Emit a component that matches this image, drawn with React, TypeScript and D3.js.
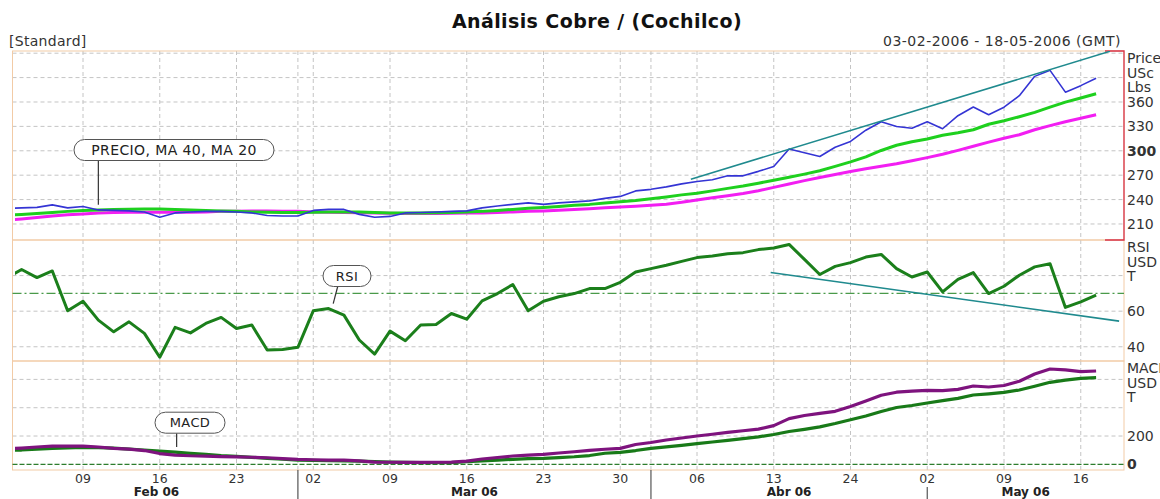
import React from 'react';
import * as d3 from 'd3';

// trading days, index 0 is the (clipped) day before 03-02-2006
const price = [229.2, 229.8, 230.4, 233.5, 229.8, 231.4, 227.3, 226.7, 226.1, 224.8, 218.3, 223.6, 224.8, 225.5, 225.5, 224.8, 223.6, 220.5, 219.9, 219.9, 226.7, 227.9, 227.9, 221.8, 218.3, 219.3, 223.6, 224.2, 224.8, 225.5, 226.1, 229.8, 232.2, 234.1, 235.9, 234.1, 235.9, 237.2, 238.4, 241.5, 243.9, 250.7, 252.6, 255.6, 259.3, 262.2, 264.3, 269.2, 269.2, 274.7, 280.7, 302.1, 297.5, 293, 304.3, 311.5, 325.3, 335.7, 329.9, 327.7, 335.7, 327.1, 343.1, 353.8, 344.4, 353.6, 367.8, 391.5, 398.9, 372.1, 380.1, 389.1];
const ma20 = [220.5, 221.8, 223.0, 224.2, 225.5, 226.7, 227.3, 227.9, 228.2, 228.5, 228.5, 227.9, 227.3, 226.7, 226.1, 225.5, 224.8, 224.5, 224.2, 224.2, 224.5, 224.6, 224.8, 224.8, 224.2, 223.6, 223.6, 223.6, 223.9, 224.2, 224.8, 225.5, 226.7, 227.9, 229.2, 230.4, 231.6, 232.9, 234.1, 235.9, 237.4, 238.9, 240.9, 243.3, 245.8, 247.9, 250.7, 253.8, 256.6, 260.2, 263.7, 267.4, 271.3, 275.4, 280.9, 286.4, 292.6, 300.4, 306.8, 311.1, 314.4, 319.1, 322.2, 325.9, 332.6, 337.0, 341.9, 347.2, 353.6, 359.8, 364.9, 370.2];
const ma40 = [214.4, 216.2, 218.1, 219.9, 221.2, 222.4, 223.6, 224.2, 224.5, 224.5, 224.5, 224.5, 224.5, 224.8, 225.5, 225.8, 226.1, 226.1, 225.8, 225.5, 224.8, 224.5, 224.2, 223.9, 223.6, 223.2, 223.0, 223.0, 223.0, 223.2, 223.4, 223.6, 224.2, 224.8, 225.5, 226.1, 226.9, 227.9, 228.8, 230.1, 231.0, 231.9, 232.9, 234.3, 236.6, 239.6, 242.2, 244.8, 247.4, 250.8, 255.0, 259.2, 263.3, 267.1, 270.8, 274.6, 277.8, 281.0, 284.1, 287.7, 291.6, 295.7, 300.5, 305.5, 310.7, 315.4, 319.7, 325.9, 331.0, 335.7, 340.0, 344.4];
const rsi = [78.5, 83.4, 78.9, 82.6, 60.2, 65.6, 55.0, 48.4, 54.0, 47.5, 34.1, 50.9, 47.8, 53.1, 56.5, 50.3, 52.2, 38.2, 38.5, 39.7, 60.2, 61.5, 57.8, 43.8, 35.9, 48.8, 43.4, 52.2, 52.5, 58.7, 55.5, 65.8, 69.9, 75.0, 60.2, 65.6, 68.1, 69.9, 72.7, 72.7, 76.2, 82.0, 83.9, 85.8, 88.0, 90.1, 91.0, 92.3, 92.9, 94.6, 95.5, 97.5, 89.1, 80.6, 85.2, 87.3, 90.4, 91.9, 83.9, 79.2, 82.0, 70.8, 77.9, 81.7, 69.9, 74.0, 80.2, 84.9, 86.7, 62.1, 65.2, 69.0];
const macd = [108.1, 115.2, 122.3, 129.3, 129.3, 129.3, 122.3, 113.1, 108.1, 97.5, 76.3, 65.7, 60.8, 58.7, 55.1, 53.0, 50.2, 46.6, 41.0, 35.3, 32.5, 30.4, 30.4, 24.7, 16.3, 14.8, 14.1, 14.1, 14.8, 16.3, 23.3, 37.5, 48.1, 58.7, 65.7, 70.7, 79.9, 89.0, 98.9, 106.7, 113.1, 139.9, 154.1, 171.7, 185.9, 200.0, 212.7, 226.1, 237.5, 248.8, 273.5, 323.0, 344.9, 359.7, 374.6, 408.5, 447.3, 488.3, 509.5, 517.3, 523.0, 520.1, 530.0, 553.3, 546.3, 556.9, 587.3, 638.2, 673.5, 667.8, 654.4, 659.4];
const signal = [97.5, 101.1, 108.1, 113.1, 116.6, 120.1, 118.7, 115.2, 108.1, 101.1, 94.0, 86.9, 77.7, 70.7, 62.2, 56.5, 49.5, 42.4, 36.0, 30.4, 28.3, 25.4, 24.7, 23.3, 19.8, 16.3, 14.1, 12.7, 11.3, 12.7, 18.4, 24.7, 30.4, 35.3, 40.3, 42.4, 48.1, 53.7, 62.2, 78.4, 84.8, 97.5, 113.1, 123.7, 134.3, 146.3, 157.6, 169.6, 181.6, 194.3, 210.6, 231.8, 247.3, 265.0, 288.3, 314.5, 341.3, 373.1, 401.4, 415.5, 433.2, 450.2, 466.4, 489.7, 498.2, 508.8, 525.1, 551.9, 579.5, 594.3, 607.8, 612.0];

const dayTicks = [5, 10, 15, 20, 25, 30, 35, 40, 45, 50, 55, 60, 65, 70];
const dayLabels = ['09', '16', '23', '02', '09', '16', '23', '30', '06', '13', '24', '02', '09', '16'];
const monthStarts = [19, 42, 60];
const monthLabels = ['Feb 06', 'Mar 06', 'Abr 06', 'May 06'];

const priceTicks = [210, 240, 270, 300, 330, 360];
const priceGrid = [210, 240, 270, 300, 330, 360, 390, 420];
const rsiTicks = [60, 40];
const rsiGrid = [40, 60, 80];
const macdTicks = [200, 0];
const macdGrid = [200, 400, 600];

// drawn trend lines: [index, value]
const priceTrend: [number, number][] = [[44.6, 265.1], [71.9, 422.3]];
const rsiTrend: [number, number][] = [[49.8, 81.7], [72.5, 54.4]];

const W = 1160;
const H = 499;
const L = 12.5;
const R = 1124;
const CLIP_L = 15;
const FONT = '"DejaVu Sans", Verdana, sans-serif';
const GRID = '#c4c4c4';
const BORDER = '#f2cba6';
const TXT = '#333';

const x = d3.scaleLinear().domain([0, 71]).range([6.25, 1096.1]);
const yPrice = d3.scaleLinear().domain([190.3, 422.7]).range([240, 51]);
const yRsi = d3.scaleLinear().domain([32, 100]).range([361, 240]);
const yMacd = d3.scaleLinear().domain([-40, 730]).range([470, 361]);

const panels = [
  { id: 'price', top: 51, bottom: 240, y: yPrice, grid: priceGrid, ticks: priceTicks, bold: 300, head: ['Price', 'USc', 'Lbs'] },
  { id: 'rsi', top: 240, bottom: 361, y: yRsi, grid: rsiGrid, ticks: rsiTicks, bold: -1, head: ['RSI', 'USD', 'T'] },
  { id: 'macd', top: 361, bottom: 470, y: yMacd, grid: macdGrid, ticks: macdTicks, bold: 0, head: ['MACD', 'USD', 'T'] },
];

const mkLine = (y: d3.ScaleLinear<number, number>) =>
  d3.line<number>().x((_, i) => x(i)).y((d) => y(d));

const Callout = ({ text, ax, ay, cx, cy, w, px, fs }: any) => {
  const h = 21;
  return (
    <g>
      <line x1={ax + px} y1={cy + h / 2} x2={ax} y2={ay} stroke="#333" strokeWidth={1.2} />
      <rect x={cx - w / 2} y={cy - h / 2} width={w} height={h} rx={10.5} ry={10.5} fill="#fff" stroke="#555" strokeWidth={1} />
      <text x={cx} y={cy} textAnchor="middle" dominantBaseline="central" fontSize={fs} letterSpacing={0.4} fill="#222" fontFamily={FONT}>
        {text}
      </text>
    </g>
  );
};

const App = () => {
  const vLines = [...dayTicks, ...monthStarts.filter((m) => !dayTicks.includes(m))];
  const monthEdges = [CLIP_L, ...monthStarts.map((m) => x(m)), R];

  return (
    <div style={{ position: 'absolute', left: 0, top: 0, background: '#fff' }}>
      <svg width={W} height={H} style={{ display: 'block', fontFamily: FONT }}>
        <rect width={W} height={H} fill="#fff" />
        <defs>
          {panels.map((p) => (
            <clipPath id={`clip-${p.id}`} key={p.id}>
              <rect x={CLIP_L} y={p.top} width={R - CLIP_L} height={p.bottom - p.top} />
            </clipPath>
          ))}
        </defs>

        <text x={597} y={28} textAnchor="middle" fontSize={19} fontWeight="bold" letterSpacing={0.4} fill="#111">
          Análisis Cobre / (Cochilco)
        </text>
        <text x={9} y={46} fontSize={14} fill={TXT} letterSpacing={0.3}>[Standard]</text>
        <text x={1121} y={46} textAnchor="end" fontSize={14} fill={TXT} letterSpacing={0.5}>
          03-02-2006 - 18-05-2006 (GMT)
        </text>

        {panels.map((p) => (
          <g key={p.id}>
            {p.grid.map((g) => (
              <line key={g} x1={L} x2={R} y1={p.y(g)} y2={p.y(g)} stroke={GRID} strokeDasharray="4,3" />
            ))}
            {vLines.map((t) => (
              <line key={t} x1={x(t)} x2={x(t)} y1={p.top} y2={p.bottom} stroke={GRID} strokeDasharray="4,3" />
            ))}
            {p.ticks.map((t) => (
              <text key={t} x={1127} y={p.y(t)} dominantBaseline="central" fontSize={14}
                fontWeight={t === p.bold ? 'bold' : 'normal'} fill={TXT}>
                {t}
              </text>
            ))}
            {p.head.map((h, k) => (
              <text key={h} x={1127} y={p.top + 7 + k * 14.5} dominantBaseline="central" fontSize={14} fill={TXT}>
                {h}
              </text>
            ))}
            <rect x={L} y={p.top} width={R - L} height={p.bottom - p.top} fill="none" stroke={BORDER} strokeWidth={1} />
          </g>
        ))}

        {/* red bracket on the price axis */}
        <path d={`M${R - 19},51 H${R} V240 H${R - 19}`} fill="none" stroke="#d8344a" strokeWidth={1.3} />

        {/* RSI 70 level and MACD zero line */}
        <line x1={L} x2={R} y1={yRsi(70)} y2={yRsi(70)} stroke="#4a9a4a" strokeWidth={1.2} strokeDasharray="9,3,2,3" />
        <line x1={L} x2={R} y1={yMacd(0)} y2={yMacd(0)} stroke="#2d7d2d" strokeWidth={1.2} strokeDasharray="5,2" />

        <g clipPath="url(#clip-price)" fill="none" strokeLinejoin="round">
          <path d={mkLine(yPrice)(ma40) || ''} stroke="#f21ef2" strokeWidth={3} />
          <path d={mkLine(yPrice)(ma20) || ''} stroke="#1ed01e" strokeWidth={3} />
          <path d={mkLine(yPrice)(price) || ''} stroke="#3434d4" strokeWidth={1.6} />
          <line x1={x(priceTrend[0][0])} y1={yPrice(priceTrend[0][1])} x2={x(priceTrend[1][0])} y2={yPrice(priceTrend[1][1])}
            stroke="#1f8a8e" strokeWidth={1.6} />
        </g>

        <g clipPath="url(#clip-rsi)" fill="none" strokeLinejoin="round">
          <path d={mkLine(yRsi)(rsi) || ''} stroke="#1b7f1b" strokeWidth={3} />
          <line x1={x(rsiTrend[0][0])} y1={yRsi(rsiTrend[0][1])} x2={x(rsiTrend[1][0])} y2={yRsi(rsiTrend[1][1])}
            stroke="#1f8a8e" strokeWidth={1.6} />
        </g>

        <g clipPath="url(#clip-macd)" fill="none" strokeLinejoin="round">
          <path d={mkLine(yMacd)(signal) || ''} stroke="#187a18" strokeWidth={3.2} />
          <path d={mkLine(yMacd)(macd) || ''} stroke="#7e137e" strokeWidth={3.2} />
        </g>

        {/* x axis labels */}
        {dayTicks.map((t, k) => (
          <text key={t} x={x(t)} y={478.5} textAnchor="middle" dominantBaseline="central" fontSize={12.5} fill={TXT}>
            {dayLabels[k]}
          </text>
        ))}
        {monthLabels.map((m, k) => (
          <text key={m} x={(monthEdges[k] + monthEdges[k + 1]) / 2} y={491.5} textAnchor="middle"
            dominantBaseline="central" fontSize={12} fontWeight="bold" fill="#222">
            {m}
          </text>
        ))}
        {monthStarts.map((m, k) => (
          <line key={m} x1={x(m)} x2={x(m)} y1={k === 2 ? 487 : 470} y2={499} stroke="#555" strokeWidth={1.2} />
        ))}

        <Callout text="PRECIO, MA 40, MA 20" ax={x(6)} ay={yPrice(233.5)} cx={174} cy={150} w={200} px={0} fs={14} />
        <Callout text="RSI" ax={x(21.3)} ay={yRsi(64.2)} cx={347} cy={276} w={48} px={4.5} fs={13} />
        <Callout text="MACD" ax={x(11.1)} ay={yMacd(122)} cx={190} cy={422.7} w={70} px={0} fs={13} />
      </svg>
    </div>
  );
};

export default App;
